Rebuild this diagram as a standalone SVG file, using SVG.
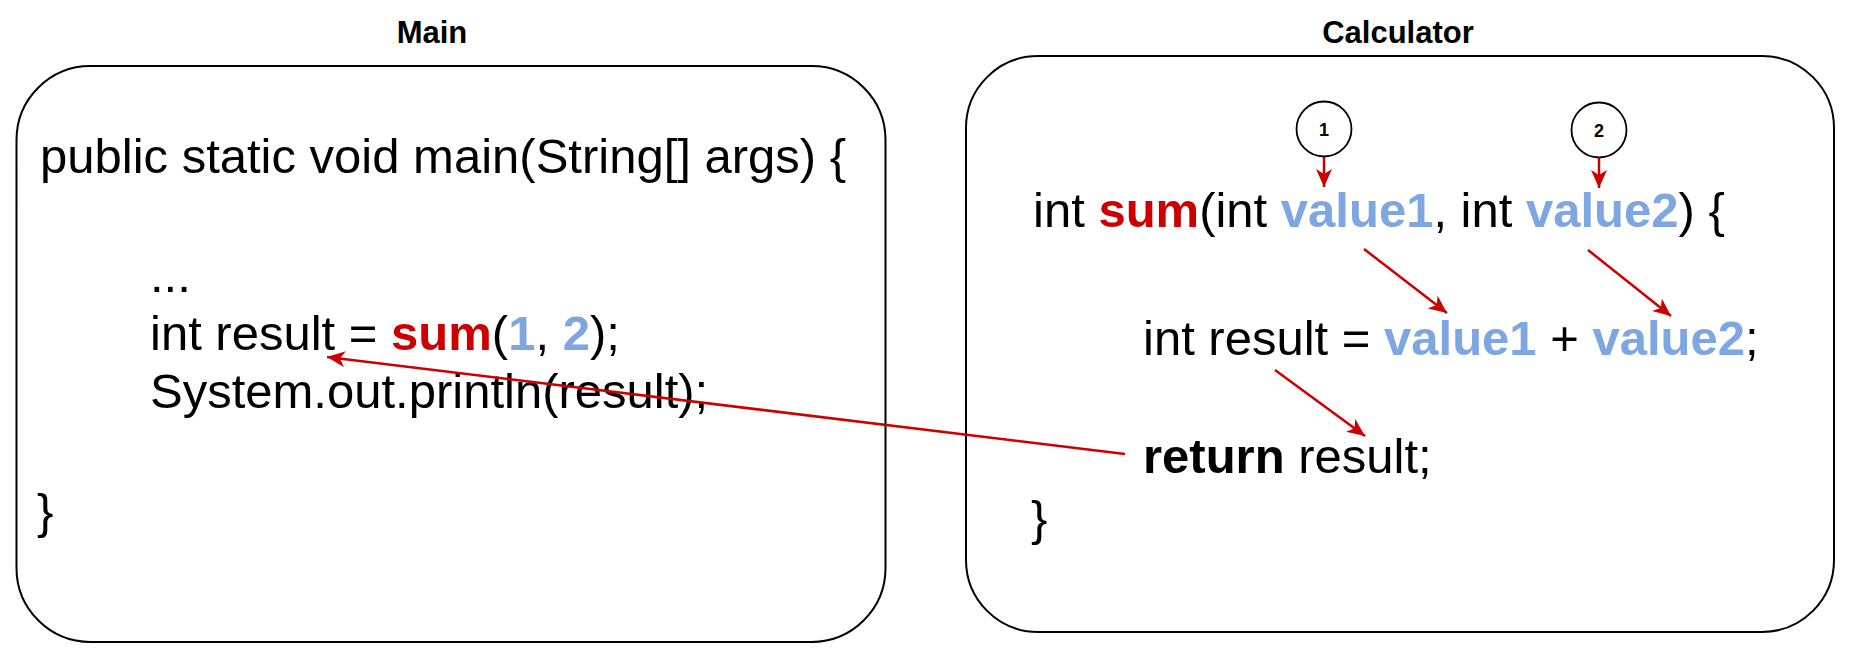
<svg xmlns="http://www.w3.org/2000/svg" width="1850" height="653" viewBox="0 0 1850 653">
<style>
.box{fill:#fff;stroke:#000;stroke-width:2}
.title{font-family:"Liberation Sans",Arial,sans-serif;font-size:31px;font-weight:bold;text-anchor:middle;fill:#000}
.code{font-family:"Liberation Sans",Arial,sans-serif;font-size:49px;fill:#000}
.red{fill:#CC0000;font-weight:bold}
.blue{fill:#7EA6E0;font-weight:bold}
.b{font-weight:bold}
.circ{fill:#fff;stroke:#000;stroke-width:1.8}
.num{font-family:"Liberation Sans",Arial,sans-serif;font-size:18px;font-weight:bold;text-anchor:middle;fill:#000}
.arr{fill:none;stroke:#CC0000;stroke-width:2.5;marker-end:url(#ah)}
</style>
<defs>
<marker id="ah" markerUnits="userSpaceOnUse" markerWidth="19" markerHeight="16" refX="18" refY="8" orient="auto">
<path d="M0,0 L18,8 L0,16 L5,8 z" fill="#CC0000"/>
</marker>
</defs>
<rect width="1850" height="653" fill="#fff"/>
<g id="main">
<text class="title" x="432" y="43">Main</text>
<rect class="box" x="16.5" y="66" width="869" height="576" rx="74" ry="74"/>
<text class="code" x="40" y="173">public static void main(String[] args) {</text>
<text class="code" x="150" y="292">...</text>
<text class="code" x="150" y="350">int result = <tspan class="red">sum</tspan>(<tspan class="blue">1</tspan>, <tspan class="blue">2</tspan>);</text>
<text class="code" x="150" y="408">System.out.println(result);</text>
<text class="code" x="37" y="528">}</text>
</g>
<g id="calculator">
<text class="title" x="1398" y="43">Calculator</text>
<rect class="box" x="966" y="56" width="868" height="576" rx="72" ry="72"/>
<text class="code" x="1033" y="227">int <tspan class="red">sum</tspan>(int <tspan class="blue">value1</tspan>, int <tspan class="blue">value2</tspan>) {</text>
<text class="code" x="1143" y="355">int result = <tspan class="blue">value1</tspan> + <tspan class="blue">value2</tspan>;</text>
<text class="code" x="1143" y="473"><tspan class="b">return</tspan> result;</text>
<text class="code" x="1031" y="535">}</text>
</g>
<g id="param1">
<circle class="circ" cx="1324" cy="129" r="27.5"/>
<text class="num" x="1324" y="136">1</text>
</g>
<g id="param2">
<circle class="circ" cx="1599" cy="130" r="27.5"/>
<text class="num" x="1599" y="137">2</text>
</g>
<g id="connectors">
<line class="arr" x1="1324" y1="157" x2="1324" y2="187"/>
<line class="arr" x1="1599" y1="158" x2="1599" y2="188"/>
<line class="arr" x1="1364" y1="249" x2="1447" y2="313"/>
<line class="arr" x1="1588" y1="250" x2="1671" y2="316"/>
<line class="arr" x1="1275" y1="370" x2="1365" y2="436"/>
<line class="arr" x1="1125" y1="454" x2="327" y2="357"/>
</g>
</svg>
